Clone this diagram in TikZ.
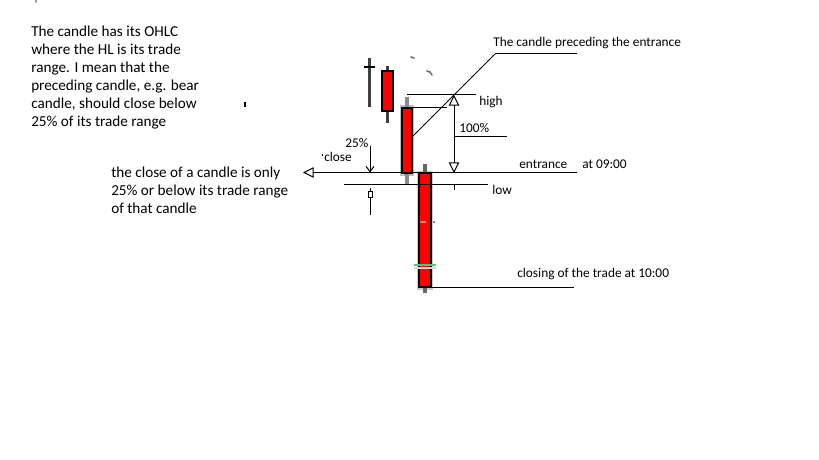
\documentclass[tikz,border=0pt]{standalone}
\usepackage{fontspec}
\setmainfont{Carlito}
\usetikzlibrary{arrows.meta}
\begin{document}
\begin{tikzpicture}[x=0.75pt,y=-0.75pt,
  thin/.style={draw=black,line width=0.75pt},
  body/.style={draw=black,fill=red,line width=1.1pt},
  halo/.style={fill=black!25,draw=none},
  wick/.style={draw=black!65,line width=2.2pt},
  blk/.style={font=\fontsize{11.4}{13.5}\selectfont,inner sep=0pt,align=left,anchor=base west},
  lbl/.style={font=\fontsize{10}{12}\selectfont,inner sep=0pt,anchor=base west},
  hollow/.style={-{Triangle[open,length=8pt,width=8pt,line width=0.75pt]}},
  barb/.style={-{Straight Barb[length=4pt,width=6pt,line width=0.75pt]}},
  stray/.style={draw=black!55,line width=1.2pt,line cap=round}]
\useasboundingbox (0,0) rectangle (819,460);

% text blocks (anchor = baseline of last line)
\node[blk] (t1) at (31,127) {The candle has its OHLC\\where the HL is its trade\\range. I mean that the\\preceding candle, e.g. bear\\candle, should close below\\25\% of its trade range};
\node[blk] (t2) at (111,214) {the close of a candle is only\\25\% or below its trade range\\of that candle};

% candle 1
\coordinate (c1t) at (369.5,58); \coordinate (c1b) at (369.5,107);
\draw[wick,draw=black!75] (c1t) -- (c1b);
\coordinate (c1l) at (364,67); \coordinate (c1r) at (375,67);
\draw[draw=black,line width=2.2pt] (c1l) -- (c1r);

% candle 2
\coordinate (c2t) at (387.5,66); \coordinate (c2b) at (387.5,123);
\draw[wick,draw=black!75] (c2t) -- (c2b);
\node[body,minimum width=8pt,minimum height=30pt,inner sep=0pt] (c2) at (387.5,91) {};

% candle 3
\fill[halo] (400,105) rectangle (414,176);
\coordinate (c3t) at (407,97); \coordinate (c3b) at (407,185);
\draw[wick,line width=3pt,draw=black!45] (c3t) -- (c3b);
\node[body,minimum width=7.5pt,minimum height=48.75pt,inner sep=0pt] (c3) at (407,140.5) {};

% candle 4
\fill[halo,fill=black!20] (417,171) rectangle (433,290);
\coordinate (c4t) at (425,164); \coordinate (c4b) at (425,293);
\draw[wick,line width=2.5pt,draw=black!60] (c4t) -- (c4b);
\node[body,minimum width=9pt,minimum height=85.5pt,inner sep=0pt] (c4) at (425,230) {};
\coordinate (g1) at (414,265); \coordinate (g2) at (436,265);
\draw[draw=black!15,line width=1.5pt] ([yshift=-2.5pt]g1) -- ([yshift=-2.5pt]g2);
\draw[draw={rgb,255:red,60;green,210;blue,120},line width=1.8pt] (g1) -- (g2);
\coordinate (p1) at (420,222); \coordinate (p2) at (426,222); \coordinate (p3) at (433,222);
\draw[draw={rgb,255:red,220;green,120;blue,130},line width=1.5pt] (p1) -- (p2);
\draw[draw={rgb,255:red,220;green,90;blue,100},line width=1.5pt] (p3) -- ++(2,0);

% stray marks
\coordinate (s1) at (411,57); \coordinate (s2) at (427,71); \coordinate (s3) at (245,102);
\draw[stray] (s1) -- ++(3,1);
\draw[stray] (s2) -- ++(3,1) -- ++(2,3);
\draw[draw=black,line width=0.9pt] (s3) -- ++(0,5);
\coordinate (s4) at (36,0);
\draw[stray,draw=black!40] (s4) -- ++(0,2);

% lines
\coordinate (hiL) at (407,95); \coordinate (hiR) at (476,95);
\draw[thin] (hiL) -- (hiR);
\coordinate (h2L) at (412,108); \coordinate (h2R) at (447,108);
\draw[thin] (h2L) -- (h2R);
\coordinate (dA) at (412,137); \coordinate (dB) at (495,54); \coordinate (dC) at (577,54);
\draw[thin,line width=0.6pt] (dA) -- (dB);
\draw[thin] (dB) -- (dC);

\coordinate (vT) at (454,95); \coordinate (vB) at (454,173);
\draw[thin,{Triangle[open,length=8pt,width=8pt,line width=0.75pt]}-{Triangle[open,length=8pt,width=8pt,line width=0.75pt]}] (vT) -- (vB);
\coordinate (vt1) at (454,185); \coordinate (vt2) at (454,190);
\draw[thin] (vt1) -- (vt2);
\coordinate (pcL) at (454,137); \coordinate (pcR) at (507,137);
\draw[thin] (pcL) -- (pcR);

\coordinate (enR) at (577,172.5); \coordinate (enL) at (303,172.5);
\draw[thin,hollow] (enR) -- (enL);
\coordinate (loL) at (344,185); \coordinate (loR) at (488,185);
\draw[thin] (loL) -- (loR);
\coordinate (qT) at (370,146); \coordinate (qB) at (370,172.5);
\draw[thin,barb] (qT) -- (qB);
\coordinate (bT) at (370,188); \coordinate (bB) at (370,215);
\draw[thin] (bT) -- (bB);
\node[draw=black,line width=0.6pt,fill=white,minimum width=3pt,minimum height=4.5pt,inner sep=0pt] (bx) at (370,194) {};
\coordinate (clL) at (431,287); \coordinate (clR) at (574,287);
\draw[thin] (clL) -- (clR);
\coordinate (tk) at (322,154);
\draw[thin] (tk) -- ++(0,2);

% labels
\node[lbl] (lpre) at (493,47) {The candle preceding the entrance};
\node[lbl] (lhigh) at (479,106) {high};
\node[lbl] (l100) at (459,133) {100\%};
\node[lbl] (l25) at (345,147) {25\%};
\node[lbl] (lclose) at (324,162) {close};
\node[lbl] (lent) at (519,169) {entrance};
\node[lbl] (lat) at (582,169) {at 09:00};
\node[lbl] (llow) at (492,195) {low};
\node[lbl] (lcls) at (517,277) {closing of the trade at 10:00};
\end{tikzpicture}
\end{document}
